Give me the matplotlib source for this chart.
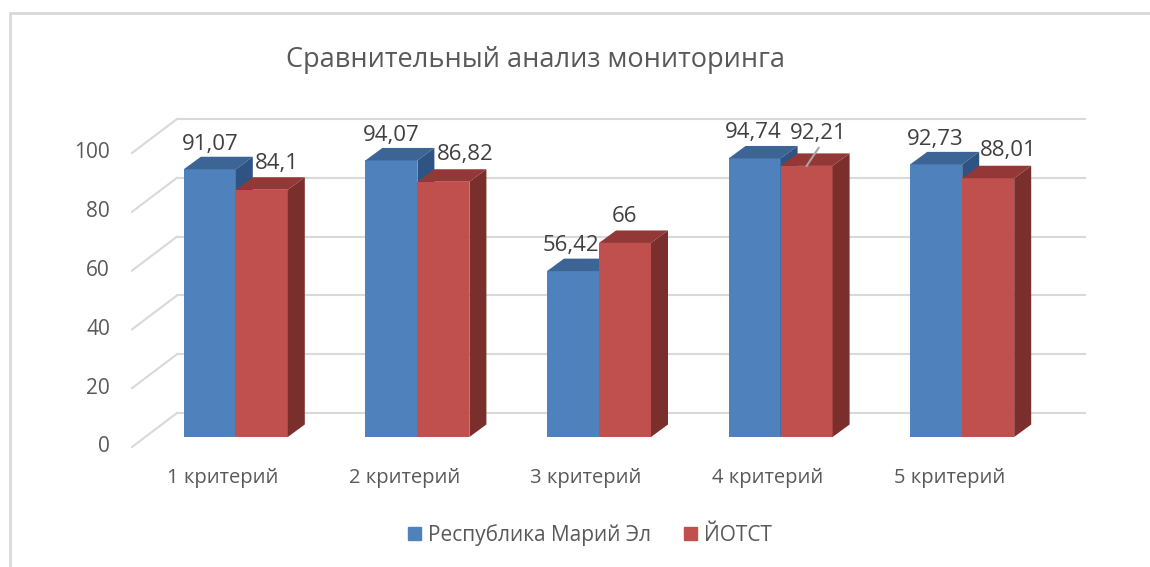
import matplotlib.pyplot as plt
from matplotlib.patches import Rectangle, Patch

plt.rcParams['font.family'] = ['Open Sans', 'DejaVu Sans']

# data
categories = ["1 критерий", "2 критерий", "3 критерий", "4 критерий", "5 критерий"]
mari_el = [91.07, 94.07, 56.42, 94.74, 92.73]
yotst = [84.1, 86.82, 66, 92.21, 88.01]
series_names = ["Республика Марий Эл", "ЙОТСТ"]
y_ticks = [0, 20, 40, 60, 80, 100]

# label nudges in pixels (dx right, dy up) above the front top edge
blue_nudge = [(0, 25), (0, 25), (-2, 26), (-1, 26), (-1, 25)]
red_nudge = [(15, 26), (22, 27), (-1, 26), (12, 32), (20, 28)]

# pixel scales of the fake 3D view
PX_X = 181.6   # px per category
PX_Y = 2.94    # px per value unit
W, H = 1150, 567

def px(dx, dy):
    return dx / PX_X, dy / PX_Y

bar_w = 52 / PX_X
bar_off_x, bar_off_y = px(13, 10)    # bar front face vs. front floor edge
dep_x, dep_y = px(17, 12.5)          # bar depth
wall_x, wall_y = px(45, 34)          # back wall vs. front floor edge

colors = {
    'blue': ('#4F81BD', '#3C6494', '#2F5382'),
    'red': ('#C0504D', '#933836', '#7B2F2D'),
}
grid_c = '#D9D9D9'
text_c = '#595959'

fig = plt.figure(figsize=(W / 100, H / 100), dpi=100)
ax = fig.add_axes([0, 0, 1, 1])
x0 = -0.5 - 132 / PX_X
ax.set_xlim(x0, x0 + W / PX_X)
ax.set_ylim(-(H - 447) / PX_Y, 447 / PX_Y)
ax.axis('off')

# chart frame (right and bottom edges fall outside the picture)
fig.patches.append(Rectangle((10 / W, -0.1), 1.2, 1 - 13 / H + 0.1,
                             transform=fig.transFigure, fill=False,
                             edgecolor='#D9D9D9', linewidth=2))

# gridlines: side wall diagonals + back wall
n = len(categories)
for t in y_ticks:
    ax.plot([-0.5, -0.5 + wall_x], [t, t + wall_y], color=grid_c, lw=1.5, zorder=1)
    ax.plot([-0.5 + wall_x, n - 0.5 + wall_x], [t + wall_y, t + wall_y],
            color=grid_c, lw=1.5, zorder=1)
    ax.text(-0.5 - 22 / PX_X, t, str(t), ha='right', va='center',
            fontsize=15, color=text_c)


def draw_bar(left, value, cols, z):
    front, top, side = cols
    b = bar_off_y
    ax.bar(left, value, width=bar_w, bottom=b, align='edge', color=front,
           linewidth=0, zorder=z)
    r = left + bar_w
    ax.fill([left, r, r + dep_x, left + dep_x],
            [b + value, b + value, b + value + dep_y, b + value + dep_y],
            color=top, lw=0, zorder=z)
    ax.fill([r, r + dep_x, r + dep_x, r],
            [b, b + dep_y, b + value + dep_y, b + value],
            color=side, lw=0, zorder=z)


for i in range(n):
    cx = i + bar_off_x
    draw_bar(cx - bar_w, mari_el[i], colors['blue'], 2 + 2 * i)
    draw_bar(cx, yotst[i], colors['red'], 3 + 2 * i)

    for v, left, (ndx, ndy) in [(mari_el[i], cx - bar_w, blue_nudge[i]),
                                (yotst[i], cx, red_nudge[i])]:
        lx = left + bar_w / 2 + ndx / PX_X
        ly = bar_off_y + v + ndy / PX_Y
        label = f"{v:g}".replace('.', ',')
        ax.text(lx, ly, label, ha='center', va='center', fontsize=16,
                color='#404040', zorder=20)

    ax.text(i, -31 / PX_Y, categories[i], ha='center', va='center',
            fontsize=14.5, color=text_c)

# leader line for the 4th red label
i = 3
ax.plot([i + bar_off_x + bar_w / 2 + 12 / PX_X, i + bar_off_x + bar_w / 2],
        [bar_off_y + yotst[i] + 18 / PX_Y, bar_off_y + yotst[i]],
        color='#A6A6A6', lw=1.5, zorder=21)

fig.text(536 / W, 1 - 60 / H, "Сравнительный анализ мониторинга",
         ha='center', va='center', fontsize=19.5, color=text_c)

handles = [Patch(color=colors['blue'][0]), Patch(color=colors['red'][0])]
fig.legend(handles, series_names, loc='center', bbox_to_anchor=(590 / W, 1 - 535 / H),
           ncol=2, frameon=False, fontsize=15, handlelength=0.6, handleheight=0.6,
           handletextpad=0.35, columnspacing=1.6, labelcolor=text_c)

fig.savefig('out.png', dpi=100)
